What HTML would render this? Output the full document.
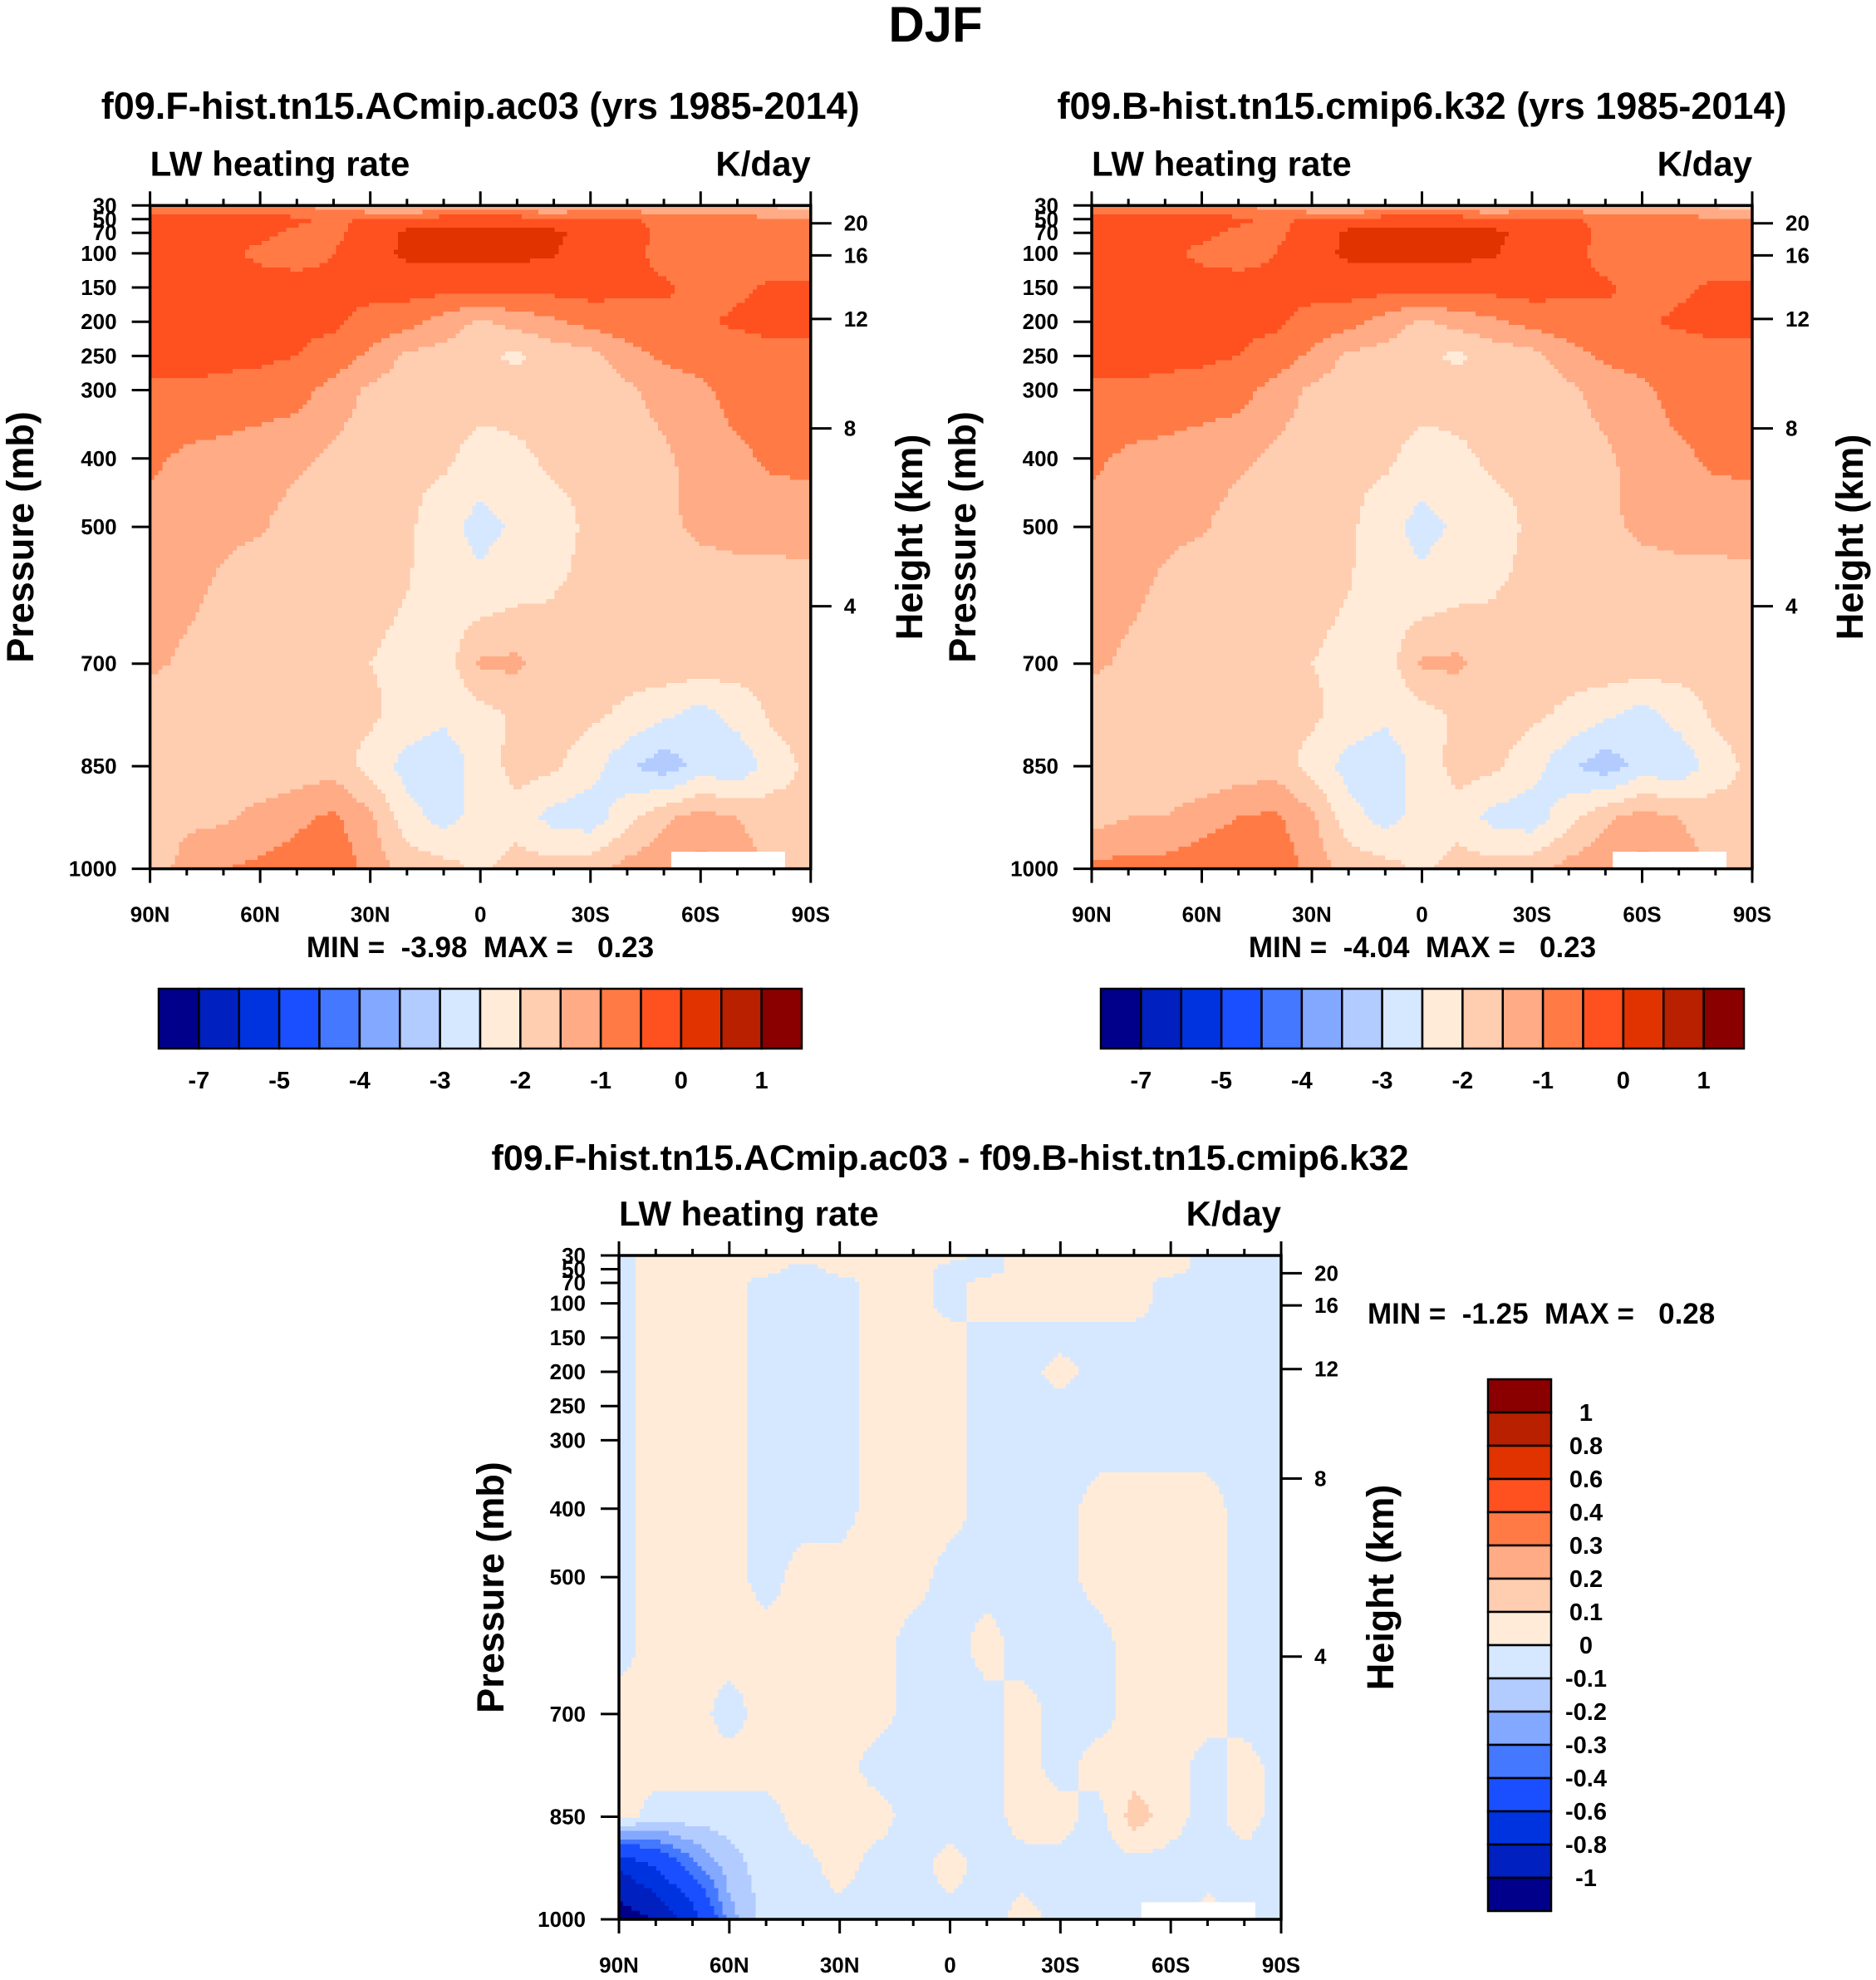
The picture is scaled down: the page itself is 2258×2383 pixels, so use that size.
<!DOCTYPE html>
<html><head><meta charset="utf-8"><style>
html,body{margin:0;padding:0;background:#fff;}
svg{display:block;font-family:"Liberation Sans",sans-serif;font-weight:bold;}
.pre{white-space:pre;}
</style></head><body>
<svg id="fig" xmlns="http://www.w3.org/2000/svg" width="2258" height="2383" viewBox="0 0 2258 2383">
<text x="1126" y="50" font-size="60" text-anchor="middle">DJF</text>
</svg>
<script>
// ---- shared axis data ----
const lats = [90,80,70,60,50,40,30,20,10,0,-10,-20,-30,-40,-50,-60,-70,-80,-90];
const levels = [30,50,70,100,150,200,250,300,400,500,600,700,775,850,925,1000];
const pTicks = [30,50,70,100,150,200,250,300,400,500,700,850,1000];
const hTickLabels = [20,16,12,8,4];
const hTickPress = [56,103,196,356,616];
const xTickLats = [90,60,30,0,-30,-60,-90];
const xTickLabels = ['90N','60N','30N','0','30S','60S','90S'];
const colors = ['#00008a','#0020bf','#0033e0','#1a4fff','#4478ff','#83a8ff','#b3ccff','#d6e8ff','#ffebd8','#ffcdb0','#ffab85','#ff7a45','#ff5020','#e03300','#b82000','#8a0000'];
const absBounds = [-7,-6,-5,-4.5,-4,-3.5,-3,-2.5,-2,-1.5,-1,-0.5,0,0.5,1];
const absLabels = ['-7','','-5','','-4','','-3','','-2','','-1','','0','','1'];
const diffBounds = [-1,-0.8,-0.6,-0.4,-0.3,-0.2,-0.1,0,0.1,0.2,0.3,0.4,0.6,0.8,1];
const diffLabels = ['-1','-0.8','-0.6','-0.4','-0.3','-0.2','-0.1','0','0.1','0.2','0.3','0.4','0.6','0.8','1'];

// ---- field A (F case) rows = levels, cols = lats ----
const fieldA = [
[-0.7,-0.7,-0.8,-0.9,-1.0,-1.2,-1.6,-1.7,-1.7,-1.7,-1.7,-1.7,-1.6,-1.5,-1.4,-1.3,-1.2,-1.6,-1.8],
[-0.3,-0.3,-0.3,-0.3,-0.4,-0.6,-0.4,-0.3,-0.2,-0.2,-0.2,-0.3,-0.3,-0.4,-0.7,-0.8,-0.9,-0.9,-0.9],
[-0.3,-0.3,-0.3,-0.4,-0.6,-0.6,-0.3,0.1,0.1,0.1,0.1,0.1,-0.2,-0.3,-0.6,-0.8,-0.8,-0.8,-0.8],
[-0.3,-0.3,-0.4,-0.6,-0.7,-0.5,-0.2,0.1,0.15,0.15,0.1,0.05,-0.3,-0.3,-0.7,-0.8,-0.8,-0.8,-0.8],
[-0.3,-0.3,-0.3,-0.3,-0.3,-0.4,-0.3,-0.3,-0.3,-0.3,-0.3,-0.3,-0.3,-0.4,-0.4,-0.7,-0.6,-0.4,-0.4],
[-0.3,-0.3,-0.3,-0.3,-0.4,-0.4,-0.7,-0.8,-1.2,-1.6,-1.3,-1.1,-0.8,-0.7,-0.7,-0.6,-0.4,-0.3,-0.3],
[-0.3,-0.3,-0.4,-0.4,-0.5,-0.7,-1.1,-1.6,-1.7,-1.9,-2.1,-1.8,-1.7,-1.2,-0.9,-0.8,-0.8,-0.7,-0.7],
[-0.6,-0.6,-0.6,-0.7,-0.8,-1.2,-1.6,-1.8,-1.8,-1.8,-1.8,-1.8,-1.8,-1.6,-1.3,-1.1,-0.8,-0.8,-0.8],
[-0.9,-1.1,-1.2,-1.3,-1.4,-1.6,-1.8,-1.9,-1.9,-2.2,-2.1,-1.9,-1.9,-1.8,-1.6,-1.3,-1.1,-0.9,-0.9],
[-1.2,-1.3,-1.4,-1.45,-1.7,-1.9,-1.9,-1.9,-2.3,-2.7,-2.4,-2.2,-1.9,-1.8,-1.6,-1.4,-1.3,-1.3,-1.2],
[-1.2,-1.4,-1.6,-1.8,-1.8,-1.9,-1.9,-2.0,-2.2,-2.3,-2.1,-2.0,-1.9,-1.8,-1.8,-1.8,-1.8,-1.8,-1.8],
[-1.4,-1.6,-1.7,-1.8,-1.8,-1.9,-2.0,-2.1,-2.3,-1.4,-1.4,-1.9,-1.9,-1.8,-1.7,-1.7,-1.8,-1.8,-1.8],
[-1.8,-1.8,-1.9,-2.0,-1.9,-1.9,-1.9,-2.2,-2.4,-2.2,-1.9,-1.8,-1.9,-2.1,-2.4,-2.7,-2.3,-1.9,-1.8],
[-1.8,-1.9,-1.8,-2.0,-1.8,-1.7,-2.2,-2.7,-2.8,-2.3,-1.8,-1.9,-2.3,-2.9,-3.3,-2.8,-2.9,-2.2,-1.9],
[-1.8,-1.6,-1.6,-1.3,-1.1,-0.9,-1.4,-2.3,-2.7,-2.3,-2.2,-2.7,-2.8,-2.2,-1.6,-1.3,-1.5,-1.8,-1.9],
[-1.8,-1.3,-1.0,-0.9,-0.8,-0.6,-1.2,-1.7,-1.8,-2.1,-1.8,-1.8,-1.7,-1.3,-1.1,-0.8,-1.2,-1.6,-1.8]];

// ---- field B (B case) ----
const fieldB = [
[-0.7,-0.7,-0.8,-0.9,-1.0,-1.2,-1.6,-1.7,-1.7,-1.7,-1.7,-1.7,-1.6,-1.5,-1.4,-1.3,-1.2,-1.6,-1.8],
[-0.3,-0.3,-0.3,-0.3,-0.4,-0.6,-0.4,-0.3,-0.2,-0.2,-0.2,-0.3,-0.3,-0.4,-0.7,-0.8,-0.9,-0.9,-0.9],
[-0.3,-0.3,-0.3,-0.4,-0.6,-0.6,-0.3,0.1,0.1,0.1,0.1,0.1,-0.2,-0.3,-0.6,-0.8,-0.8,-0.8,-0.8],
[-0.3,-0.3,-0.4,-0.6,-0.7,-0.5,-0.2,0.1,0.15,0.15,0.1,0.05,-0.3,-0.3,-0.7,-0.8,-0.8,-0.8,-0.8],
[-0.3,-0.3,-0.3,-0.3,-0.3,-0.4,-0.3,-0.3,-0.3,-0.3,-0.3,-0.3,-0.3,-0.4,-0.4,-0.7,-0.6,-0.4,-0.4],
[-0.3,-0.3,-0.3,-0.3,-0.4,-0.4,-0.7,-0.8,-1.2,-1.6,-1.3,-1.1,-0.8,-0.7,-0.7,-0.6,-0.4,-0.3,-0.3],
[-0.3,-0.3,-0.4,-0.4,-0.5,-0.7,-1.1,-1.6,-1.7,-1.9,-2.1,-1.8,-1.7,-1.2,-0.9,-0.8,-0.8,-0.7,-0.7],
[-0.6,-0.6,-0.6,-0.7,-0.8,-1.2,-1.6,-1.8,-1.8,-1.8,-1.8,-1.8,-1.8,-1.6,-1.3,-1.1,-0.8,-0.8,-0.8],
[-0.9,-1.1,-1.2,-1.3,-1.4,-1.6,-1.8,-1.9,-1.9,-2.2,-2.1,-1.9,-1.9,-1.8,-1.6,-1.3,-1.1,-0.9,-0.9],
[-1.2,-1.3,-1.4,-1.45,-1.7,-1.9,-1.9,-1.9,-2.3,-2.7,-2.4,-2.2,-1.9,-1.8,-1.6,-1.4,-1.3,-1.3,-1.2],
[-1.2,-1.4,-1.6,-1.8,-1.8,-1.9,-1.9,-2.0,-2.2,-2.3,-2.1,-2.0,-1.9,-1.8,-1.8,-1.8,-1.8,-1.8,-1.8],
[-1.4,-1.6,-1.7,-1.8,-1.8,-1.9,-2.0,-2.1,-2.3,-1.4,-1.4,-1.9,-1.9,-1.8,-1.7,-1.7,-1.8,-1.8,-1.8],
[-1.8,-1.8,-1.9,-2.0,-1.9,-1.9,-1.9,-2.2,-2.4,-2.2,-1.9,-1.8,-1.9,-2.1,-2.4,-2.7,-2.3,-1.9,-1.8],
[-1.8,-1.9,-1.8,-2.0,-1.8,-1.7,-2.2,-2.7,-2.8,-2.3,-1.8,-1.9,-2.3,-2.9,-3.3,-2.8,-2.9,-2.2,-1.9],
[-1.7,-1.5,-1.5,-1.2,-1.0,-0.9,-1.4,-2.3,-2.7,-2.3,-2.2,-2.7,-2.8,-2.2,-1.6,-1.3,-1.5,-1.8,-1.9],
[-0.9,-0.8,-0.8,-0.7,-0.6,-0.6,-1.2,-1.7,-1.8,-2.1,-1.8,-1.8,-1.7,-1.3,-1.1,-0.8,-1.2,-1.6,-1.8]];

// ---- difference field ----
const fieldD = [
[-0.05,0.05,0.05,0.05,0.05,0.05,0.05,0.05,0.05,0.05,-0.05,0.05,0.05,0.05,0.05,0.05,-0.05,-0.05,-0.05],
[-0.05,0.05,0.05,0.05,0.05,-0.05,0.05,0.05,0.05,-0.05,-0.05,0.05,0.05,0.05,0.05,0.05,-0.05,-0.05,-0.05],
[-0.05,0.05,0.05,0.05,-0.05,-0.05,-0.05,0.05,0.05,-0.05,0.05,0.05,0.05,0.05,0.05,-0.05,-0.05,-0.05,-0.05],
[-0.05,0.05,0.05,0.05,-0.05,-0.05,-0.05,0.05,0.05,-0.05,0.05,0.05,0.05,0.05,0.05,-0.05,-0.05,-0.05,-0.05],
[-0.05,0.05,0.05,0.05,-0.05,-0.05,-0.05,0.05,0.05,0.05,-0.05,-0.05,-0.05,-0.05,-0.05,-0.05,-0.05,-0.05,-0.05],
[-0.05,0.05,0.05,0.05,-0.05,-0.05,-0.05,0.05,0.05,0.05,-0.05,-0.05,0.05,-0.05,-0.05,-0.05,-0.05,-0.05,-0.05],
[-0.05,0.05,0.05,0.05,-0.05,-0.05,-0.05,0.05,0.05,0.05,-0.05,-0.05,-0.05,-0.05,-0.05,-0.05,-0.05,-0.05,-0.05],
[-0.05,0.05,0.05,0.05,-0.05,-0.05,-0.05,0.05,0.05,0.05,-0.05,-0.05,-0.05,-0.05,-0.05,-0.05,-0.05,-0.05,-0.05],
[-0.05,0.05,0.05,0.05,-0.05,-0.05,-0.05,0.05,0.05,0.05,-0.05,-0.05,-0.05,0.05,0.05,0.05,0.05,-0.05,-0.05],
[-0.05,0.05,0.05,0.05,-0.05,0.05,0.05,0.05,0.05,-0.05,-0.05,-0.05,-0.05,0.05,0.05,0.05,0.05,-0.05,-0.05],
[-0.05,0.05,0.05,0.05,0.05,0.05,0.05,0.05,-0.05,-0.05,0.05,-0.05,-0.05,-0.05,0.05,0.05,0.05,-0.05,-0.05],
[0.05,0.05,0.05,-0.05,0.05,0.05,0.05,0.05,-0.05,-0.05,-0.05,0.05,-0.05,-0.05,0.05,0.05,0.05,-0.05,-0.05],
[0.05,0.05,0.05,0.05,0.05,0.05,0.05,-0.05,-0.05,-0.05,-0.05,0.05,-0.05,0.05,0.05,0.05,-0.05,0.05,-0.05],
[0.05,-0.05,-0.05,-0.05,-0.05,0.05,0.05,0.05,-0.05,-0.05,-0.05,0.05,0.05,-0.05,0.15,0.05,-0.05,0.05,-0.05],
[-0.8,-0.6,-0.35,-0.15,-0.05,-0.05,0.05,-0.05,-0.05,0.05,-0.05,-0.05,-0.05,-0.05,-0.05,-0.05,-0.05,-0.05,-0.05],
[-1.1,-1.0,-0.7,-0.25,-0.05,-0.05,-0.05,-0.05,-0.05,-0.05,-0.05,0.05,-0.05,-0.05,-0.05,-0.05,0.05,-0.05,-0.05]];

const NS='http://www.w3.org/2000/svg';
const svg=document.getElementById('fig');
function mk(tag,attrs,parent){const e=document.createElementNS(NS,tag);for(const k in attrs)e.setAttribute(k,attrs[k]);(parent||svg).appendChild(e);return e;}
function txt(x,y,s,size,anchor,parent,extra){const e=mk('text',Object.assign({x:x,y:y,'font-size':size,'text-anchor':anchor||'middle'},extra||{}),parent);e.textContent=s;return e;}
function colorFor(v,bounds){let i=0;while(i<bounds.length&&v>=bounds[i])i++;return colors[i];}
function sample(field,lat,p){
  let c=0;while(c<lats.length-2&&lat<lats[c+1])c++;
  let r=0;while(r<levels.length-2&&p>levels[r+1])r++;
  const tx=Math.min(1,Math.max(0,(lats[c]-lat)/(lats[c]-lats[c+1])));
  const ty=Math.min(1,Math.max(0,(p-levels[r])/(levels[r+1]-levels[r])));
  const a=field[r][c],b=field[r][c+1],d=field[r+1][c],e=field[r+1][c+1];
  return (a*(1-tx)+b*tx)*(1-ty)+(d*(1-tx)+e*tx)*ty;
}

function plot(P){
  const g=mk('g',{});
  
  
  const xs=lat=>P.x0+(90-lat)/180*(P.x1-P.x0);
  const ys=p=>P.y0+(p-30)/970*(P.y1-P.y0);
  const cg=mk('g',{'shape-rendering':'crispEdges'},g);
  
  
  const NX=160,NY=150;
  const dx=(P.x1-P.x0)/NX,dy=(P.y1-P.y0)/NY;
  for(let j=0;j<NY;j++){
    const p=30+(j+0.5)/NY*970;
    let runStart=0,runCol=null;
    for(let i=0;i<=NX;i++){
      const col=i<NX?colorFor(sample(P.field,90-(i+0.5)/NX*180,p),P.bounds):null;
      if(col!==runCol){
        if(runCol!==null){
          const cell=mk('rect',{x:P.x0+runStart*dx,y:P.y0+j*dy,width:(i-runStart)*dx+0.5,height:dy+0.5,fill:runCol},cg);
          
          
        }
        runStart=i;runCol=col;
      }
    }
  }
  const w=mk('rect',{x:xs(-52),y:ys(975),width:xs(-83)-xs(-52),height:ys(1000)-ys(975),fill:'#fff'},g);
  
  
  const fr=mk('rect',{x:P.x0,y:P.y0,width:P.x1-P.x0,height:P.y1-P.y0,fill:'none',stroke:'#000','stroke-width':3.5},g);
  
  
  pTicks.forEach(p=>{
    const y=ys(p);
    mk('line',{x1:P.x0-22,x2:P.x0,y1:y,y2:y,stroke:'#000','stroke-width':3},g);
    const t=txt(P.x0-40,y+9,String(p),26,'end',g);
    
    
  });
  hTickPress.forEach((p,i)=>{
    const y=ys(p);
    mk('line',{x1:P.x1,x2:P.x1+25,y1:y,y2:y,stroke:'#000','stroke-width':3},g);
    const t=txt(P.x1+40,y+9,String(hTickLabels[i]),26,'start',g);
    
    
  });
  for(let lat=90;lat>=-90;lat-=10){
    const x=xs(lat),major=(lat%30===0);const L=major?17:8;
    mk('line',{x1:x,x2:x,y1:P.y0-L,y2:P.y0,stroke:'#000','stroke-width':3},g);
    mk('line',{x1:x,x2:x,y1:P.y1,y2:P.y1+L,stroke:'#000','stroke-width':3},g);
  }
  xTickLats.forEach((lat,i)=>{
    const t=txt(xs(lat),P.y1+64,xTickLabels[i],26,'middle',g);
    
    
  });
  let t=txt((P.x0+P.x1)/2,P.ty,P.title,P.tsize||45,'middle',g);
  
  
  t=txt(P.x0,P.y0-36,'LW heating rate',42,'start',g);
  
  
  t=txt(P.x1,P.y0-36,'K/day',42,'end',g);
  
  
  const cy=(P.y0+P.y1)/2;
  t=txt(P.plx,cy,'Pressure (mb)',45,'middle',g,{transform:'rotate(-90 '+P.plx+' '+cy+')'});
  
  
  t=txt(P.hlx,cy,'Height (km)',45,'middle',g,{transform:'rotate(-90 '+P.hlx+' '+cy+')'});
  
  
  t=txt(P.mmx,P.mmy,P.minmax,35,P.mmAnchor||'middle',g,{'class':'pre'});
  
  
}

function hbar(x0,x1,y0,y1,name){
  const g=mk('g',{});
  
  
  const w=(x1-x0)/colors.length;
  colors.forEach((c,i)=>{
    const r=mk('rect',{x:x0+i*w,y:y0,width:w,height:y1-y0,fill:c,stroke:'#000','stroke-width':2.5},g);
    
    
  });
  absLabels.forEach((s,i)=>{ if(!s)return;
    const t=txt(x0+(i+1)*w,y1+48,s,29,'middle',g);
    
    
  });
}

plot({name:'panel-f-case',field:fieldA,bounds:absBounds,x0:180.6,x1:975.8,y0:247.3,y1:1045.6,ty:143,
  title:'f09.F-hist.tn15.ACmip.ac03 (yrs 1985-2014)',plx:40,hlx:1110,mmx:578,mmy:1152,minmax:'MIN =  -3.98  MAX =   0.23'});
plot({name:'panel-b-case',field:fieldB,bounds:absBounds,x0:1314,x1:2109,y0:247.3,y1:1045.6,ty:143,
  title:'f09.B-hist.tn15.cmip6.k32 (yrs 1985-2014)',plx:1174,hlx:2242,mmx:1712,mmy:1152,minmax:'MIN =  -4.04  MAX =   0.23'});
hbar(191,965,1190,1262,'colorbar-top-left');
hbar(1325,2099,1190,1262,'colorbar-top-right');
plot({name:'panel-difference',field:fieldD,bounds:diffBounds,x0:745,x1:1542,y0:1511,y1:2310,ty:1408,tsize:43,
  title:'f09.F-hist.tn15.ACmip.ac03 - f09.B-hist.tn15.cmip6.k32',plx:606,hlx:1677,mmx:1646,mmy:1593,mmAnchor:'start',minmax:'MIN =  -1.25  MAX =   0.28'});

(function(){
  const g=mk('g',{});
  
  
  const x0=1791,x1=1867,y0=1660,y1=2300,h=(y1-y0)/colors.length;
  colors.slice().reverse().forEach((c,i)=>{
    const r=mk('rect',{x:x0,y:y0+i*h,width:x1-x0,height:h,fill:c,stroke:'#000','stroke-width':2.5},g);
    
    
  });
  diffLabels.slice().reverse().forEach((s,i)=>{
    const t=txt(1909,y0+(i+1)*h+10,s,29,'middle',g);
    
    
  });
})();
</script>
</body></html>
